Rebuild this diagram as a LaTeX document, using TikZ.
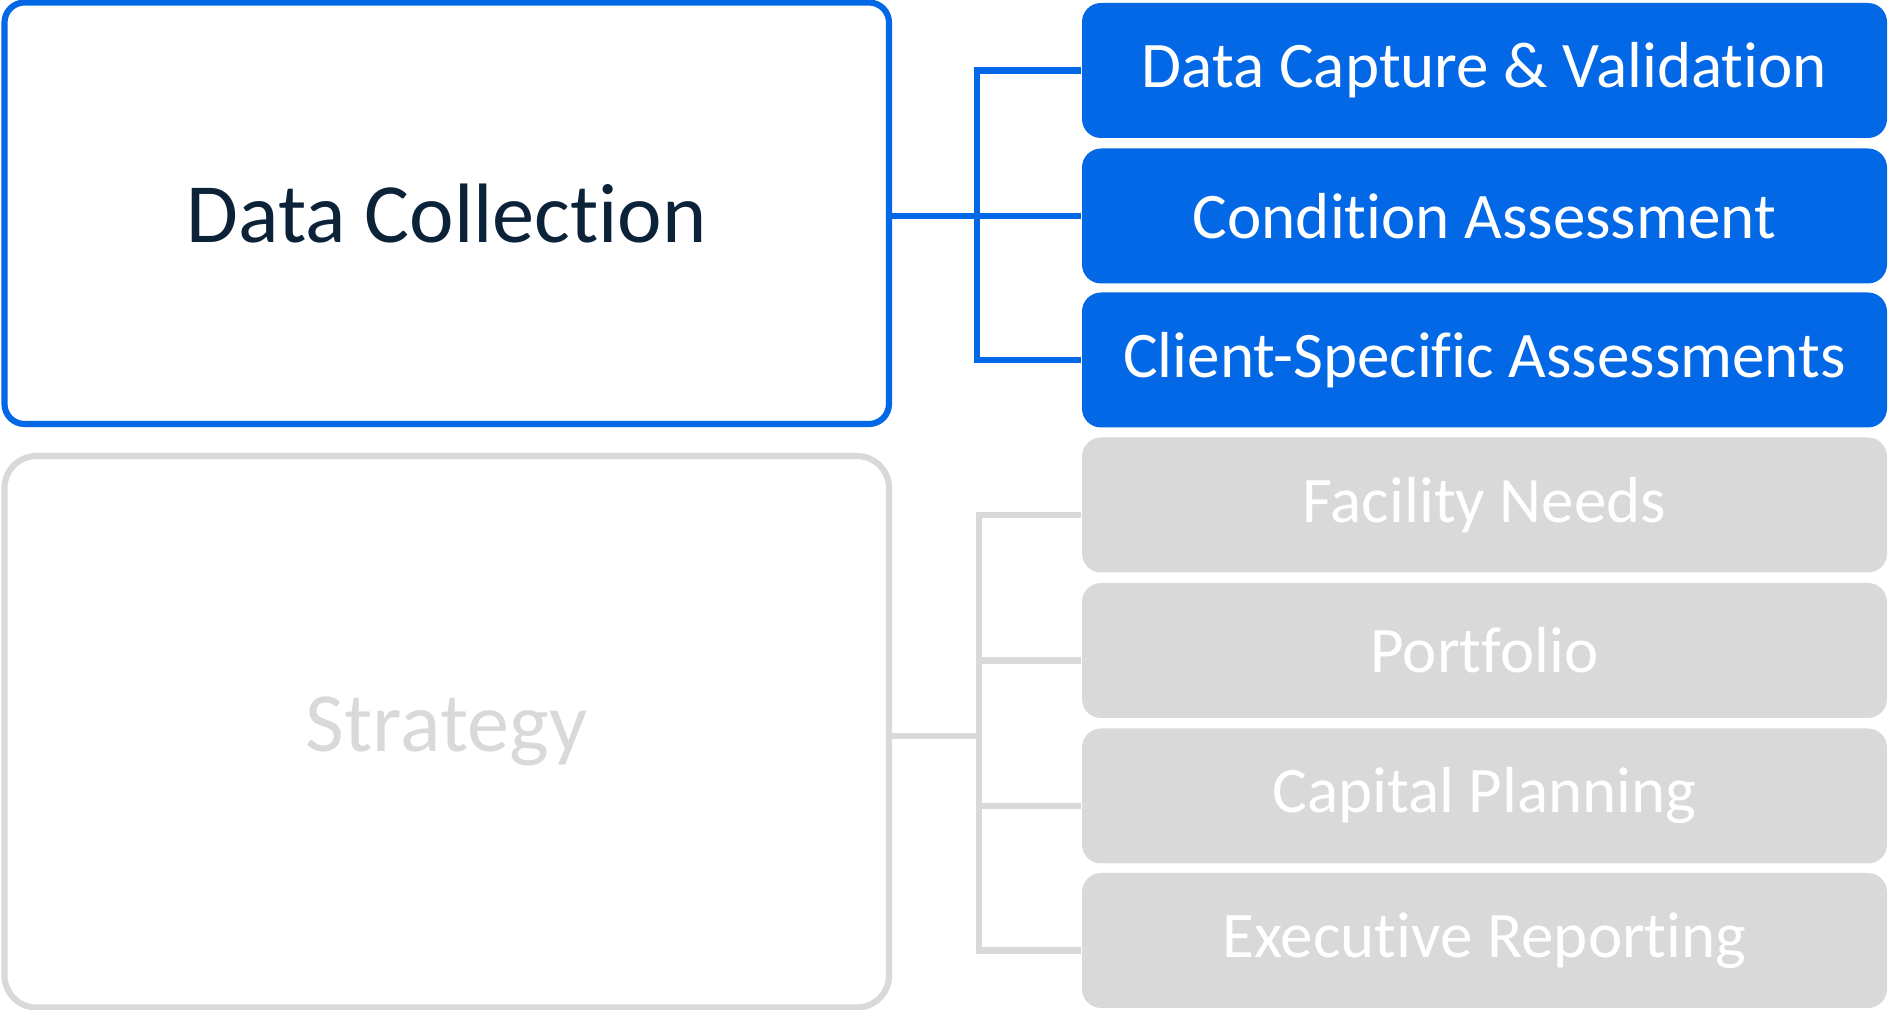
\documentclass[tikz,border=0pt]{standalone}
\usepackage{fontspec}
\setmainfont{Carlito}[Ligatures=NoCommon]
\definecolor{azul}{HTML}{0368E6}
\definecolor{gris}{HTML}{D9D9D9}
\definecolor{marino}{HTML}{0B2239}
\begin{document}
\begin{tikzpicture}[x=0.1mm,y=-0.1mm,
    marco/.style={draw=#1, line width=1.75pt, minimum width=88.45mm, inner sep=0pt,
      font=\fontsize{24}{29}\selectfont},
    tarea/.style={fill=#1, rounded corners=1.9mm, minimum width=80.5mm, minimum height=13.5mm,
      inner sep=0pt, text=white, font=\fontsize{18.5}{22}\selectfont},
    enlace/.style={draw=#1, line width=1.75pt}]
  \useasboundingbox (0,0) rectangle (1888,1010);

  % Caja superior
	\node[marco=azul, rounded corners=2mm, minimum height=42.15mm, text=marino] (dc) at (446.75,213.25) {Data Collection};

	% Caja inferior
	\node[marco=gris, rounded corners=3.2mm, minimum height=55.15mm, text=gris] (st) at (446.75,731.75) {Strategy};

	% Tareas azules
	\node[tarea=azul] (b1) at (1484.5,70.5) {Data Capture \& Validation};
	\node[tarea=azul] (b2) at (1484.5,216) {Condition Assessment};
	\node[tarea=azul] (b3) at (1484.5,360) {Client-Specific Assessments};

	% Tareas grises
	\node[tarea=gris] (g1) at (1484.5,505) {Facility Needs};
	\node[tarea=gris] (g2) at (1484.5,650.5) {Portfolio};
	\node[tarea=gris] (g3) at (1484.5,796) {Capital Planning};
	\node[tarea=gris] (g4) at (1484.5,940.5) {Executive Reporting};

	% Llave azul
	\coordinate (bj) at (977,216);
	\draw[enlace=azul] (b1.west) -- (bj |- b1.west) -- (bj |- b3.west) -- (b3.west);
	\draw[enlace=azul] (dc.east |- b2.west) -- (b2.west);

	% Llave gris
	\coordinate (gj) at (979,736);
	\foreach \i in {1,...,4}
		\coordinate (p\i) at ([yshift=-1mm]g\i.west);
	\draw[enlace=gris] (p1) -- (gj |- p1) -- (gj |- p4) -- (p4);
	\draw[enlace=gris] (gj |- p2) -- (p2);
	\draw[enlace=gris] (gj |- p3) -- (p3);
	\draw[enlace=gris] (st.east |- gj) -- (gj);
\end{tikzpicture}
\end{document}
